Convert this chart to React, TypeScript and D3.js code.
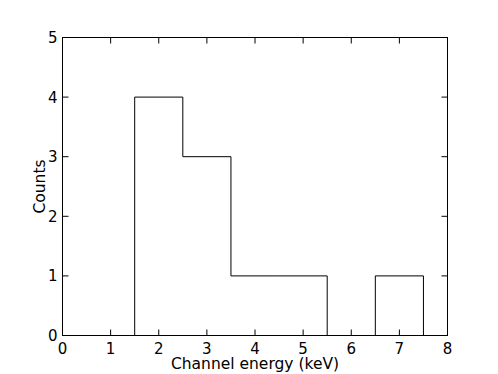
import { useEffect, useRef } from 'react';
import * as d3 from 'd3';

// histogram bins (left edge, right edge) and counts
const binEdges = [1.5, 2.5, 3.5, 4.5, 5.5, 6.5, 7.5];
const counts = [4, 3, 1, 1, 0, 1];
const xTicks = [0, 1, 2, 3, 4, 5, 6, 7, 8];
const yTicks = [0, 1, 2, 3, 4, 5];

const width = 498;
const height = 374;
const margin = { top: 37.5, right: 50.5, bottom: 38.5, left: 62.5 };

const App = () => {
    const svgRef = useRef<SVGSVGElement>(null);

    useEffect(() => {
        const svg = d3.select(svgRef.current);
        svg.selectAll('*').remove();

        const boundsWidth = width - margin.left - margin.right;
        const boundsHeight = height - margin.top - margin.bottom;

        const g = svg.append('g').attr('transform', `translate(${margin.left},${margin.top})`);

        const x = d3.scaleLinear().domain([0, 8]).range([0, boundsWidth]);
        const y = d3.scaleLinear().domain([0, 5]).range([boundsHeight, 0]);

        // step outline of the histogram
        const pts: [number, number][] = [[binEdges[0], 0]];
        counts.forEach((c, i) => {
            pts.push([binEdges[i], c]);
            pts.push([binEdges[i + 1], c]);
        });
        pts.push([binEdges[binEdges.length - 1], 0]);

        g.append('path')
            .attr('d', d3.line().x(d => x(d[0])).y(d => y(d[1]))(pts))
            .attr('fill', 'none')
            .attr('stroke', '#000')
            .attr('stroke-width', 1);

        const font = 'DejaVu Sans';
        const fontSize = '15px';
        const tickLen = 6;

        // ticks on all four sides, pointing inward
        xTicks.forEach(t => {
            g.append('line').attr('x1', x(t)).attr('x2', x(t)).attr('y1', boundsHeight).attr('y2', boundsHeight - tickLen).attr('stroke', '#000');
            g.append('line').attr('x1', x(t)).attr('x2', x(t)).attr('y1', 0).attr('y2', tickLen).attr('stroke', '#000');
            g.append('text')
                .attr('x', x(t))
                .attr('y', boundsHeight + 18)
                .attr('text-anchor', 'middle')
                .style('font-family', font)
                .style('font-size', fontSize)
                .text(t);
        });
        yTicks.forEach(t => {
            g.append('line').attr('x1', 0).attr('x2', tickLen).attr('y1', y(t)).attr('y2', y(t)).attr('stroke', '#000');
            g.append('line').attr('x1', boundsWidth).attr('x2', boundsWidth - tickLen).attr('y1', y(t)).attr('y2', y(t)).attr('stroke', '#000');
            g.append('text')
                .attr('x', -5)
                .attr('y', y(t) + 5.5)
                .attr('text-anchor', 'end')
                .style('font-family', font)
                .style('font-size', fontSize)
                .text(t);
        });

        // frame
        g.append('rect')
            .attr('width', boundsWidth)
            .attr('height', boundsHeight)
            .attr('fill', 'none')
            .attr('stroke', '#000');

        // Add labels
        g.append('text')
            .attr('x', boundsWidth / 2)
            .attr('y', boundsHeight + 33)
            .attr('text-anchor', 'middle')
            .style('font-family', font)
            .style('font-size', '15.5px')
            .text('Channel energy (keV)');

        g.append('text')
            .attr('transform', `translate(-17.5,${boundsHeight / 2}) rotate(-90)`)
            .attr('text-anchor', 'middle')
            .style('font-family', font)
            .style('font-size', '15.5px')
            .text('Counts');
    }, []);

    return (
        <svg ref={svgRef} width={width} height={height} style={{ position: 'absolute', left: 0, top: 0 }}></svg>
    );
};

export default App;
